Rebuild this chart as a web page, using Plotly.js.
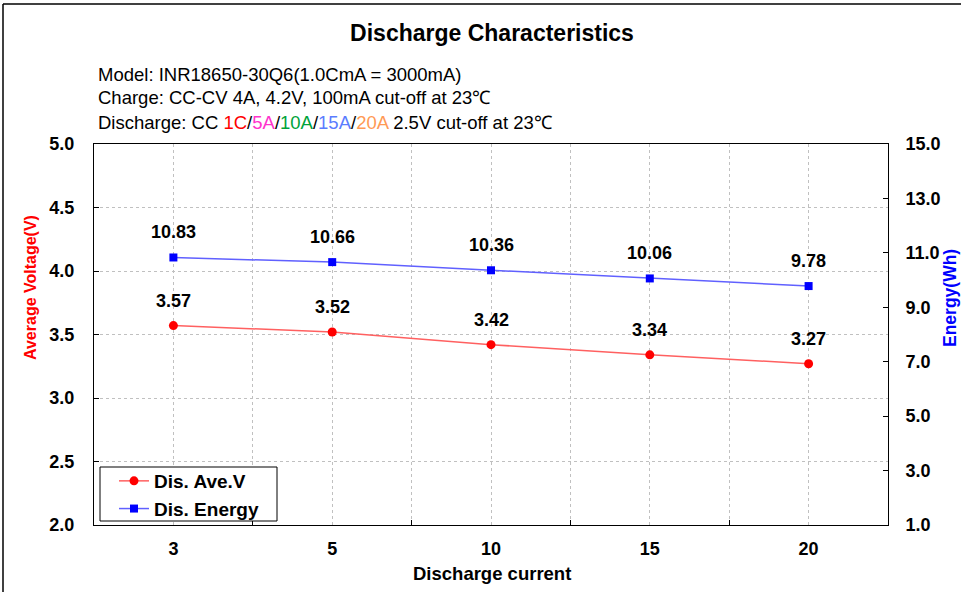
<!DOCTYPE html>
<html>
<head>
<meta charset="utf-8">
<script src="https://cdn.plot.ly/plotly-3.0.1.min.js"></script>
<style>
html,body{margin:0;padding:0;background:#fff;}
#chart{width:961px;height:592px;}
</style>
</head>
<body>
<div id="chart"></div>
<script>
var currentLabels = ["3", "5", "10", "15", "20"];
var aveVoltage = [3.57, 3.52, 3.42, 3.34, 3.27];
var energy = [10.83, 10.66, 10.36, 10.06, 9.78];
var seriesNames = ["Dis. Ave.V", "Dis. Energy"];

var FONT = "Arial, 'Liberation Sans', sans-serif";
var xIdx = currentLabels.map(function (_, i) { return i; });
var boundaries = xIdx.slice(0, -1).map(function (i) { return i + 0.5; });

// pixel -> paper helpers (plot area: x 94..888, y 144..525)
function px(x) { return (x - 94) / 794; }
function py(y) { return (525 - y) / 381; }

var traceV = {
  x: xIdx, y: aveVoltage, name: seriesNames[0], type: "scatter", mode: "lines+markers",
  line: { color: "#ff6060", width: 1.5 },
  marker: { color: "#ff0000", size: 9, symbol: "circle" },
  yaxis: "y", cliponaxis: false
};
var traceE = {
  x: xIdx, y: energy, name: seriesNames[1], type: "scatter", mode: "lines+markers",
  line: { color: "#6060ff", width: 1.5 },
  marker: { color: "#0000ff", size: 8, symbol: "square" },
  yaxis: "y2", cliponaxis: false
};

var labelFont = { family: FONT, size: 18, color: "#000" };
var annotations = [];
xIdx.forEach(function (i) {
  annotations.push({ x: i, y: aveVoltage[i], xref: "x", yref: "y", text: "<b>" + aveVoltage[i].toFixed(2) + "</b>",
    showarrow: false, yshift: 25, font: labelFont });
  annotations.push({ x: i, y: energy[i], xref: "x", yref: "y2", text: "<b>" + energy[i].toFixed(2) + "</b>",
    showarrow: false, yshift: 25, font: labelFont });
});

var hdrFont = { family: FONT, size: 18.5, color: "#000" };
annotations.push({ xref: "paper", yref: "paper", x: px(96), y: py(74), xanchor: "left", yanchor: "middle", showarrow: false,
  text: "Model: INR18650-30Q6(1.0CmA = 3000mA)", font: hdrFont });
annotations.push({ xref: "paper", yref: "paper", x: px(96), y: py(97), xanchor: "left", yanchor: "middle", showarrow: false,
  text: "Charge: CC-CV 4A, 4.2V, 100mA cut-off at 23℃", font: hdrFont });
annotations.push({ xref: "paper", yref: "paper", x: px(96), y: py(122), xanchor: "left", yanchor: "middle", showarrow: false,
  text: "Discharge: CC <span style='color:#ff0000'>1C</span>/<span style='color:#ff33cc'>5A</span>/<span style='color:#00a33a'>10A</span>/<span style='color:#5b7cff'>15A</span>/<span style='color:#ff9a55'>20A</span> 2.5V cut-off at 23℃",
  font: hdrFont });

annotations.push({ xref: "paper", yref: "paper", x: px(30), y: py(288), textangle: -90, showarrow: false,
  xanchor: "center", yanchor: "middle", text: "<b>Average Voltage(V)</b>", font: { family: FONT, size: 16, color: "#ff0000" } });
annotations.push({ xref: "paper", yref: "paper", x: px(950), y: py(298), textangle: -90, showarrow: false,
  xanchor: "center", yanchor: "middle", text: "<b>Energy(Wh)</b>", font: { family: FONT, size: 17.5, color: "#0000ff" } });
annotations.push({ xref: "paper", yref: "paper", x: px(492), y: py(573), showarrow: false,
  xanchor: "center", yanchor: "middle", text: "<b>Discharge current</b>", font: { family: FONT, size: 18.5, color: "#000" } });

var tickFont = { family: FONT, size: 18, color: "#000", weight: "bold" };

var layout = {
  width: 961, height: 592,
  margin: { l: 94, r: 73, t: 144, b: 67 },
  paper_bgcolor: "#fff", plot_bgcolor: "#fff",
  showlegend: true,
  title: { text: "<b>Discharge Characteristics</b>", x: 492 / 961, xref: "container", xanchor: "center",
    y: 1 - 33 / 592, yref: "container", yanchor: "middle", font: { family: FONT, size: 23, color: "#000" } },
  xaxis: {
    range: [-0.5, xIdx.length - 0.5], tickmode: "array", tickvals: xIdx, ticktext: currentLabels,
    ticks: "", showgrid: true, gridcolor: "#c0c0c0", griddash: "dot", gridwidth: 1,
    showline: true, linecolor: "#000", linewidth: 1, mirror: true, zeroline: false,
    tickfont: tickFont, ticklabelstandoff: 7,
    minor: { tickmode: "array", tickvals: boundaries, ticks: "inside", ticklen: 5, tickcolor: "#000",
      showgrid: true, gridcolor: "#c0c0c0", griddash: "dot", gridwidth: 1 }
  },
  yaxis: {
    range: [2, 5], dtick: 0.5, tick0: 2, tickformat: ".1f", ticks: "inside", ticklen: 5, tickcolor: "#000",
    showgrid: true, gridcolor: "#c0c0c0", griddash: "dot", gridwidth: 1,
    showline: true, linecolor: "#000", linewidth: 1, mirror: true, zeroline: false,
    tickfont: tickFont, ticklabelstandoff: 15
  },
  yaxis2: {
    range: [1, 15], dtick: 2, tick0: 1, tickformat: ".1f", ticks: "inside", ticklen: 5, tickcolor: "#000",
    overlaying: "y", side: "right", showgrid: false, zeroline: false,
    showline: true, linecolor: "#000", linewidth: 1,
    tickfont: tickFont, ticklabelstandoff: 13
  },
  legend: {
    x: px(114), y: py(462), xanchor: "left", yanchor: "top",
    bgcolor: "rgba(0,0,0,0)", borderwidth: 0,
    font: { family: FONT, size: 19, color: "#000", weight: "bold" },
    tracegroupgap: 0, itemwidth: 30
  },
  annotations: annotations,
  shapes: [
    { type: "rect", xref: "paper", yref: "paper", x0: px(100), x1: px(277), y0: py(521), y1: py(467),
      fillcolor: "#fff", line: { color: "#000", width: 1 }, layer: "above" },
    { type: "line", xref: "paper", yref: "paper", x0: px(3), x1: px(3), y0: py(600), y1: py(4),
      line: { color: "#000", width: 1.5 } },
    { type: "line", xref: "paper", yref: "paper", x0: px(3), x1: px(970), y0: py(4), y1: py(4),
      line: { color: "#000", width: 1.5 } }
  ]
};

Plotly.newPlot("chart", [traceV, traceE], layout, { displayModeBar: false, staticPlot: true });
</script>
</body>
</html>
